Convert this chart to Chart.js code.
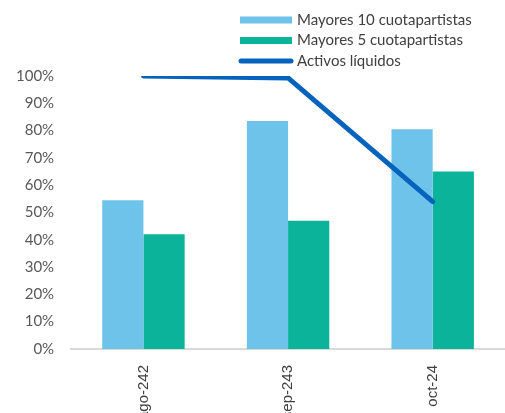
<!DOCTYPE html>
<html>
<head>
<meta charset="utf-8">
<script src="https://cdn.jsdelivr.net/npm/chart.js@4"></script>
<style>
  html, body { margin: 0; padding: 0; background: #fff; overflow: hidden; }
  #wrap { width: 505px; height: 413px; overflow: hidden; }
</style>
</head>
<body>
<div id="wrap"><canvas id="chart" width="505" height="428"></canvas></div>
<script>
// datos
const categorias = ['ago-242', 'sep-243', 'oct-24'];
const mayores10 = [54.5, 83.5, 80.5];
const mayores5 = [42, 47, 65];
const activosLiquidos = [100, 99.3, 54];
const ticksY = [0, 10, 20, 30, 40, 50, 60, 70, 80, 90, 100];

// leyenda vertical dibujada a mano
const leyenda = {
    id: 'leyenda',
    afterDraw(chart) {
        const ctx = chart.ctx;
        ctx.save();
        ctx.font = '15px Lato';
        ctx.textBaseline = 'middle';
        chart.data.datasets.forEach((ds, i) => {
            const y = 20 + i * 20.5;
            if (ds.type === 'line') {
                ctx.strokeStyle = ds.borderColor;
                ctx.lineWidth = 5;
                ctx.lineCap = 'round';
                ctx.beginPath();
                ctx.moveTo(241, y);
                ctx.lineTo(291, y);
                ctx.stroke();
            } else {
                ctx.fillStyle = ds.backgroundColor;
                ctx.fillRect(240, y - 3.5, 52, 7);
            }
            ctx.fillStyle = '#404040';
            ctx.fillText(ds.label, 297, y);
        });
        ctx.restore();
    }
};

new Chart(document.getElementById('chart'), {
    type: 'bar',
    data: {
        labels: categorias,
        datasets: [{
            label: 'Mayores 10 cuotapartistas',
            data: mayores10,
            backgroundColor: '#6ec3ea',
            order: 2
        }, {
            label: 'Mayores 5 cuotapartistas',
            data: mayores5,
            backgroundColor: '#0bb39a',
            order: 2
        }, {
            type: 'line',
            label: 'Activos líquidos',
            data: activosLiquidos,
            borderColor: '#0563bd',
            borderWidth: 5,
            borderCapStyle: 'round',
            pointRadius: 0,
            tension: 0,
            order: 1
        }]
    },
    plugins: [leyenda],
    options: {
        responsive: false,
        animation: false,
        datasets: { bar: { categoryPercentage: 0.57, barPercentage: 1 } },
        layout: { padding: { top: 76, left: 7, right: 0, bottom: 0 } },
        plugins: { legend: { display: false }, tooltip: { enabled: false } },
        scales: {
            x: {
                grid: { display: false },
                border: { color: '#d9d9d9', width: 2 },
                ticks: {
                    color: '#404040',
                    font: { family: 'Liberation Sans', size: 15 },
                    minRotation: 90,
                    maxRotation: 90,
                    padding: 8
                }
            },
            y: {
                min: 0,
                max: 100,
                afterBuildTicks: (axis) => { axis.ticks = ticksY.map(v => ({ value: v })); },
                grid: { display: false },
                border: { display: false },
                ticks: {
                    color: '#595959',
                    font: { family: 'Lato', size: 15 },
                    padding: 9,
                    callback: (v) => v + '%'
                }
            }
        }
    }
});
</script>
</body>
</html>
